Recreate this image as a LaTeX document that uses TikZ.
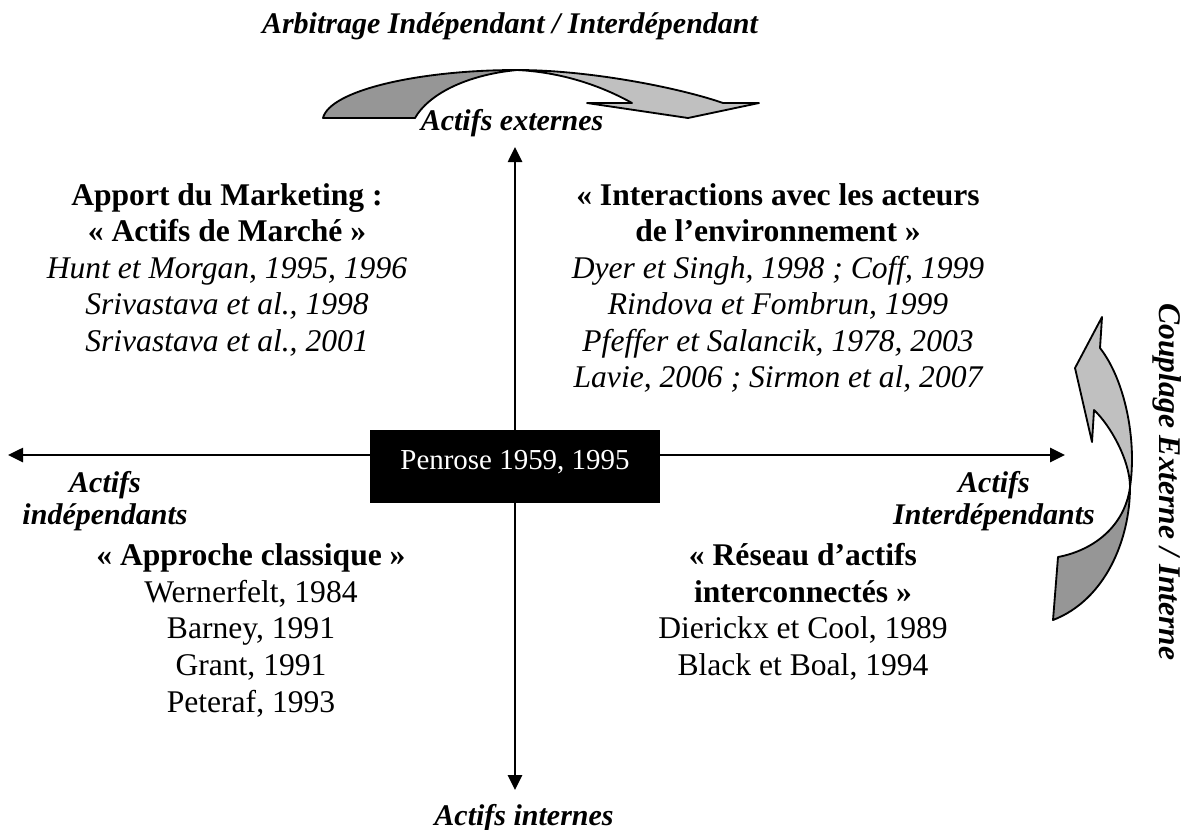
\documentclass[tikz,border=0pt]{standalone}
\usepackage{fontspec}
\setmainfont{Liberation Serif}
\usetikzlibrary{arrows.meta}
\definecolor{ribbonlight}{HTML}{C0C0C0}
\definecolor{ribbondark}{HTML}{969696}
\begin{document}
\begin{tikzpicture}[x=0.38pt,y=-0.38pt,
  txt/.style={inner sep=0pt, anchor=base, font=\fontsize{12}{14}\selectfont},
  head/.style={txt, font=\fontsize{12}{14}\selectfont\bfseries},
  ref/.style={txt, font=\fontsize{12}{14}\selectfont\itshape},
  lbl/.style={inner sep=0pt, anchor=base, font=\fontsize{11.4}{13}\selectfont\bfseries\itshape},
  axis/.style={line width=0.76pt, {Triangle[length=5.7pt,width=5.4pt]}-{Triangle[length=5.7pt,width=5.4pt]}},
  ribbon/.style={draw=black, line width=0.7pt, line join=round},
  penrosebox/.style={fill=black, draw=none, minimum width=110.2pt, minimum height=27.7pt, inner sep=0pt}]
\useasboundingbox (0,0) rectangle (1185,829);

% axes
\coordinate (axtop) at (515,147);
\coordinate (axbottom) at (515,790);
\coordinate (axleft) at (8,455);
\coordinate (axright) at (1065,455);
\draw[axis] (axtop) -- (axbottom);
\draw[axis] (axleft) -- (axright);

% central box
\node[penrosebox] (penrose) at (515,466.5) {};
\node[inner sep=0pt, anchor=base, text=white, font=\fontsize{11}{13}\selectfont] (penrosetxt) at (515,469) {Penrose 1959, 1995};

% title and axis labels
\node[lbl] (title) at (510,33) {Arbitrage Indépendant / Interdépendant};
\node[lbl] (ext) at (512,130) {Actifs externes};
\node[lbl] (int) at (524,825) {Actifs internes};
\node[lbl] (indep1) at (105,492) {Actifs};
\node[lbl] (indep2) at (105,524) {indépendants};
\node[lbl] (inter1) at (994,492) {Actifs};
\node[lbl] (inter2) at (994,524) {Interdépendants};
\node[inner sep=0pt, rotate=-90, font=\fontsize{12}{14}\selectfont\bfseries\itshape] (couplage) at (1167,482) {Couplage Externe / Interne};

% top-left quadrant
\node[head] (tl1) at (227,205) {Apport du Marketing :};
\node[head] (tl2) at (227,241.5) {« Actifs de Marché »};
\node[ref]  (tl3) at (227,278) {Hunt et Morgan, 1995, 1996};
\node[ref]  (tl4) at (227,314.5) {Srivastava et al., 1998};
\node[ref]  (tl5) at (227,351) {Srivastava et al., 2001};

% top-right quadrant
\node[head] (tr1) at (778,205) {« Interactions avec les acteurs};
\node[head] (tr2) at (778,241.5) {de l’environnement »};
\node[ref]  (tr3) at (778,278) {Dyer et Singh, 1998 ; Coff, 1999};
\node[ref]  (tr4) at (778,314.5) {Rindova et Fombrun, 1999};
\node[ref]  (tr5) at (778,351) {Pfeffer et Salancik, 1978, 2003};
\node[ref]  (tr6) at (778,387.5) {Lavie, 2006 ; Sirmon et al, 2007};

% bottom-left quadrant
\node[head] (bl1) at (251,565) {« Approche classique »};
\node[txt]  (bl2) at (251,602) {Wernerfelt, 1984};
\node[txt]  (bl3) at (251,638.5) {Barney, 1991};
\node[txt]  (bl4) at (251,675) {Grant, 1991};
\node[txt]  (bl5) at (251,712) {Peteraf, 1993};

% bottom-right quadrant
\node[head] (br1) at (803,565) {« Réseau d’actifs};
\node[head] (br2) at (803,602) {interconnectés »};
\node[txt]  (br3) at (803,638.5) {Dierickx et Cool, 1989};
\node[txt]  (br4) at (803,675) {Black et Boal, 1994};

% curved ribbon arrow at the top
\filldraw[ribbon, fill=ribbondark] (323,118) -- (415,118)
  .. controls (428,95) and (465,75) .. (517,70)
  .. controls (420,70) and (330,90) .. (323,118) -- cycle;
\filldraw[ribbon, fill=ribbonlight] (517,70)
  .. controls (590,70) and (680,88) .. (723,103)
  -- (759,103) -- (688,118) -- (587,103) -- (632,103)
  .. controls (600,85) and (560,72) .. (517,70) -- cycle;

% curved ribbon arrow on the right
\filldraw[ribbon, fill=ribbonlight] (1102,317) -- (1100,348)
  .. controls (1125,380) and (1137,440) .. (1130,487)
  .. controls (1130,460) and (1110,425) .. (1094,410)
  -- (1092,442) -- (1075,368) -- cycle;
\filldraw[ribbon, fill=ribbondark] (1130,487)
  .. controls (1130,540) and (1105,600) .. (1053,620)
  -- (1058,557)
  .. controls (1095,550) and (1125,525) .. (1130,487) -- cycle;
\end{tikzpicture}
\end{document}
